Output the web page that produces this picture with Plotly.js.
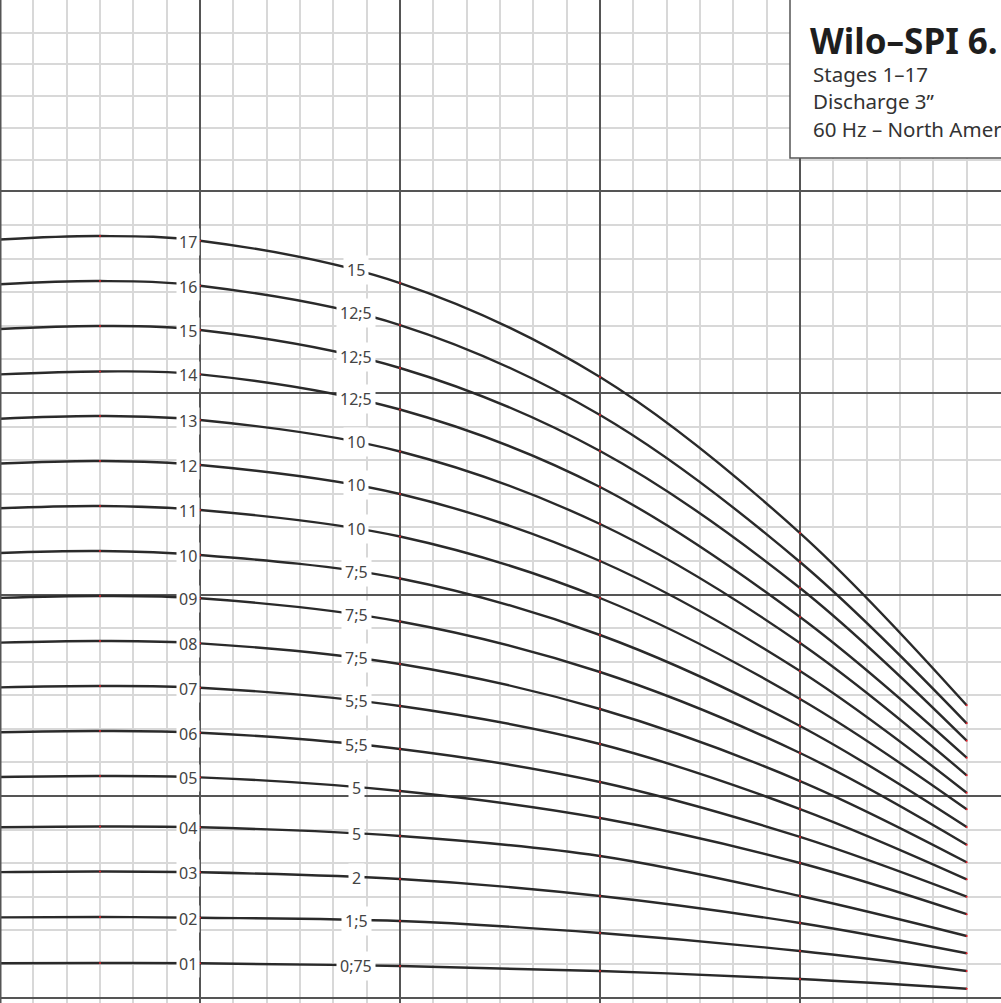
<!DOCTYPE html>
<html>
<head>
<meta charset="utf-8">
<script src="https://cdn.plot.ly/plotly-3.0.1.min.js"></script>
<style>html,body{margin:0;padding:0;background:#fff;overflow:hidden}#chart{width:1001px;height:1003px}</style>
</head>
<body>
<div id="chart"></div>
<script>
// Flow (US gpm) at the curve data points
const flow = [0, 30, 60, 120, 180, 240, 290];
// Head (ft) for each stage count
const head01 = [51.1, 51.4, 50.9, 46.9, 39.5, 27.5, 13.1];
const head02 = [119.3, 119.8, 118.8, 113.9, 96.0, 69.2, 39.5];
const head03 = [186.7, 187.6, 186.4, 176.4, 151.1, 110.9, 65.8];
const head04 = [253.4, 254.6, 253.4, 240.4, 210.7, 151.1, 91.6];
const head05 = [328.3, 329.8, 327.8, 307.4, 267.2, 200.2, 124.0];
const head06 = [395.0, 396.8, 394.2, 370.0, 320.8, 239.0, 150.1];
const head07 = [461.7, 463.8, 461.2, 434.0, 377.4, 280.6, 176.0];
const head08 = [528.4, 530.8, 527.3, 496.5, 429.5, 322.3, 201.4];
const head09 = [594.9, 597.8, 594.3, 559.8, 484.6, 364.0, 227.5];
const head10 = [661.8, 664.7, 658.8, 623.8, 539.7, 404.2, 253.8];
const head11 = [728.3, 731.7, 725.8, 686.3, 594.8, 444.4, 280.2];
const head12 = [795.0, 798.7, 792.8, 749.6, 649.9, 486.1, 304.9];
const head13 = [861.7, 865.7, 859.8, 812.9, 704.9, 527.8, 330.8];
const head14 = [927.7, 932.0, 927.8, 875.4, 760.0, 566.5, 357.0];
const head15 = [995.3, 999.7, 993.8, 937.2, 813.6, 609.7, 382.3];
const head16 = [1061.8, 1066.7, 1059.7, 1001.2, 867.2, 648.4, 408.2];
const head17 = [1128.5, 1133.7, 1126.7, 1063.7, 923.8, 691.5, 435.0];
// Stage labels and motor power labels (hp)
const stageLabels = ['01','02','03','04','05','06','07','08','09','10','11','12','13','14','15','16','17'];
const motorLabels = ['0;75','1;5','2','5','5','5;5','5;5','7;5','7;5','7;5','10','10','10','12;5','12;5','12;5','15'];
const titleLines = ['Wilo\u2013SPI 6.', 'Stages 1\u201317', 'Discharge 3\u201D', '60 Hz \u2013 North America'];

const heads = [head01,head02,head03,head04,head05,head06,head07,head08,head09,head10,head11,head12,head13,head14,head15,head16,head17];

const labelFlow = 106.8;
function interp(h, q) {
  const x0 = flow[2], x1 = flow[3], x2 = flow[4];
  const L0 = (q-x1)*(q-x2)/((x0-x1)*(x0-x2));
  const L1 = (q-x0)*(q-x2)/((x1-x0)*(x1-x2));
  const L2 = (q-x0)*(q-x1)/((x2-x0)*(x2-x1));
  return h[2]*L0 + h[3]*L1 + h[4]*L2;
}

const traces = heads.map((h, i) => ({
  type: 'scatter', mode: 'lines+markers', x: flow, y: h,
  line: {color: '#2a2a2a', width: 2.4, shape: 'spline'},
  marker: {color: '#e8202a', size: 2},
  hoverinfo: 'skip', showlegend: false
}));

const annotations = [];
const labFont = {family: 'Noto Sans, Open Sans, sans-serif', size: 16, color: '#444'};
heads.forEach((h, i) => {
  annotations.push({x: flow[2], y: h[2], xref: 'x', yref: 'y', text: stageLabels[i],
    showarrow: false, xanchor: 'right', yanchor: 'middle', bgcolor: '#fff', borderpad: 2,
    font: labFont, yshift: -1});
  annotations.push({x: labelFlow, y: interp(h, labelFlow), xref: 'x', yref: 'y', text: motorLabels[i],
    showarrow: false, xanchor: 'center', yanchor: 'middle', bgcolor: '#fff', borderpad: 3,
    font: labFont, yshift: -1});
});
const W = 1001, H = 1003;
annotations.push({xref: 'paper', yref: 'paper', x: 808/W, y: 1 - 41/H, xanchor: 'left', yanchor: 'middle',
  text: '<b>' + titleLines[0] + '</b>', showarrow: false,
  font: {family: 'Noto Sans, Open Sans, sans-serif', size: 35, color: '#1e1e1e'}});
[74, 101, 129].forEach((yy, j) => {
  annotations.push({xref: 'paper', yref: 'paper', x: 811/W, y: 1 - yy/H, xanchor: 'left', yanchor: 'middle',
    text: titleLines[j+1], showarrow: false,
    font: {family: 'Noto Sans, Open Sans, sans-serif', size: 20.5, color: '#333'}});
});

const yMinor = [];
for (let v = 50; v < 1200; v += 50) yMinor.push(v);
for (let j = 1; j < 6; j++) yMinor.push(1200 + j*(1484-1200)/6);
const xMinor = [];
for (let v = 10; v <= 290; v += 10) xMinor.push(v);

const layout = {
  width: W, height: H,
  margin: {l: 0, r: 0, t: 0, b: 0, pad: 0},
  paper_bgcolor: '#fff', plot_bgcolor: '#fff',
  showlegend: false,
  xaxis: {range: [0, 300.3], showticklabels: false, ticks: '', zeroline: false, showline: false,
    tickmode: 'array', tickvals: [0, 60, 120, 180, 240],
    showgrid: true, gridcolor: '#555', gridwidth: 2,
    minor: {tickmode: 'array', tickvals: xMinor, showgrid: true, gridcolor: '#d8d8d8', gridwidth: 2}},
  yaxis: {range: [-8.19, 1485.1], showticklabels: false, ticks: '', zeroline: false, showline: false,
    tickmode: 'array', tickvals: [0, 300, 600, 900, 1200, 1484],
    showgrid: true, gridcolor: '#555', gridwidth: 2,
    minor: {tickmode: 'array', tickvals: yMinor, showgrid: true, gridcolor: '#d8d8d8', gridwidth: 2}},
  shapes: [
    {type: 'line', xref: 'paper', yref: 'paper', x0: 0, x1: 0, y0: 0, y1: 1, line: {color: '#555', width: 3}},
    {type: 'rect', xref: 'paper', yref: 'paper', x0: 790/W, x1: 1.1, y0: 1 - 158/H, y1: 1.01,
      fillcolor: '#fff', line: {color: '#555', width: 1.5}, layer: 'above'}
  ],
  annotations: annotations
};

Plotly.newPlot('chart', traces, layout, {staticPlot: true, displayModeBar: false});
</script>
</body>
</html>
